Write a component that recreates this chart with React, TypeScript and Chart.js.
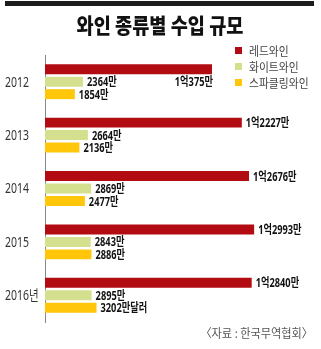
import React, { useEffect, useRef } from "react";
import { Chart, registerables } from "chart.js";

Chart.register(...registerables);

const title = "와인 종류별 수입 규모";
const source = "〈자료 : 한국무역협회〉";
const categories = ["2012", "2013", "2014", "2015", "2016년"];
const seriesNames = ["레드와인", "화이트와인", "스파클링와인"];
const redValues = [10375, 12227, 12676, 12993, 12840];
const whiteValues = [2364, 2664, 2869, 2843, 2895];
const sparklingValues = [1854, 2136, 2477, 2886, 3202];
const redLabels = ["1억375만", "1억2227만", "1억2676만", "1억2993만", "1억2840만"];
const whiteLabels = ["2364만", "2664만", "2869만", "2843만", "2895만"];
const sparklingLabels = ["1854만", "2136만", "2477만", "2886만", "3202만달러"];
const colors = ["#b20b12", "#d5e08e", "#ffc60a"];

const LEGEND_X = 235;
const LEGEND_Y = 47;
const LEGEND_STEP = 16;
const KR = "'Noto Sans CJK KR', sans-serif";
const VALUE_FONT = "bold 12.5px 'Noto Sans', " + KR;

function squeezeText(ctx: CanvasRenderingContext2D, text: string, x: number, y: number, scale: number, align: "left" | "right" | "center") {
  const w = ctx.measureText(text).width;
  ctx.save();
  ctx.textAlign = "left";
  let left = x;
  if (align === "right") left = x - w * scale;
  else if (align === "center") left = x - (w * scale) / 2;
  ctx.translate(left, y);
  ctx.scale(scale, 1);
  ctx.fillText(text, 0, 0);
  ctx.restore();
  return w * scale;
}

const decorPlugin = {
  id: "decor",
  afterDraw(chart: any) {
    const ctx: CanvasRenderingContext2D = chart.ctx;
    ctx.save();
    ctx.textBaseline = "middle";
    // top rule
    ctx.fillStyle = "#1c1c1c";
    ctx.fillRect(5, 1, 309, 5);
    // title
    ctx.fillStyle = "#111";
    ctx.font = "900 21px " + KR;
    squeezeText(ctx, title, 160, 25, 167 / ctx.measureText(title).width, "center");
    // legend
    ctx.font = "12px " + KR;
    seriesNames.forEach((name, i) => {
      const y = LEGEND_Y + i * LEGEND_STEP;
      ctx.fillStyle = colors[i];
      ctx.fillRect(LEGEND_X, y, 7, 7);
      ctx.fillStyle = "#444";
      squeezeText(ctx, name, LEGEND_X + 14, y + 4, 0.9, "left");
    });
    // source
    ctx.fillStyle = "#555";
    ctx.font = "12px " + KR;
    squeezeText(ctx, source, 313, 333, 0.93, "right");

    // category labels
    const yScale = chart.scales.y;
    ctx.fillStyle = "#333";
    ctx.font = "14px 'Noto Sans', " + KR;
    categories.forEach((c, i) => {
      squeezeText(ctx, c, yScale.left, yScale.getPixelForTick(i) + 1, 0.75, "left");
    });

    // value labels
    const labelSets = [redLabels, whiteLabels, sparklingLabels];
    const legendBottom = LEGEND_Y + seriesNames.length * LEGEND_STEP;
    ctx.font = VALUE_FONT;
    ctx.fillStyle = "#111";
    const vs = 0.74;
    labelSets.forEach((labels, di) => {
      const meta = chart.getDatasetMeta(di);
      meta.data.forEach((bar: any, i: number) => {
        const text = labels[i];
        const w = ctx.measureText(text).width * vs;
        const x = bar.x + 4;
        const collides = x + w > LEGEND_X && bar.y < legendBottom;
        if (collides) {
          const next = chart.getDatasetMeta(di + 1).data[i];
          squeezeText(ctx, text, bar.x + 1, next.y + 1, vs, "right");
        } else {
          squeezeText(ctx, text, x, bar.y + 1, vs, "left");
        }
      });
    });
    ctx.restore();
  },
};

export default function App() {
  const ref = useRef<HTMLCanvasElement>(null);
  useEffect(() => {
    document.body.style.margin = "0";
    const chart = new Chart(ref.current!, {
      type: "bar",
      data: {
        labels: categories,
        datasets: [
          { label: seriesNames[0], data: redValues, backgroundColor: colors[0] },
          { label: seriesNames[1], data: whiteValues, backgroundColor: colors[1] },
          { label: seriesNames[2], data: sparklingValues, backgroundColor: colors[2] },
        ],
      },
      options: {
        indexAxis: "y",
        responsive: false,
        animation: false,
        categoryPercentage: 0.7,
        barPercentage: 0.8,
        layout: { padding: { left: 5, top: 55, right: 8, bottom: 27 } },
        plugins: { legend: { display: false }, title: { display: false }, tooltip: { enabled: false } },
        scales: {
          x: { display: false, min: 0, max: 16650 },
          y: {
            grid: { display: false },
            border: { display: true, color: "#888", width: 1 },
            ticks: { display: false },
            afterFit(axis: any) {
              axis.width = 40;
            },
          },
        },
      } as any,
      plugins: [decorPlugin],
    });
    return () => chart.destroy();
  }, []);
  return <canvas ref={ref} width={321} height={349} style={{ display: "block" }} />;
}
